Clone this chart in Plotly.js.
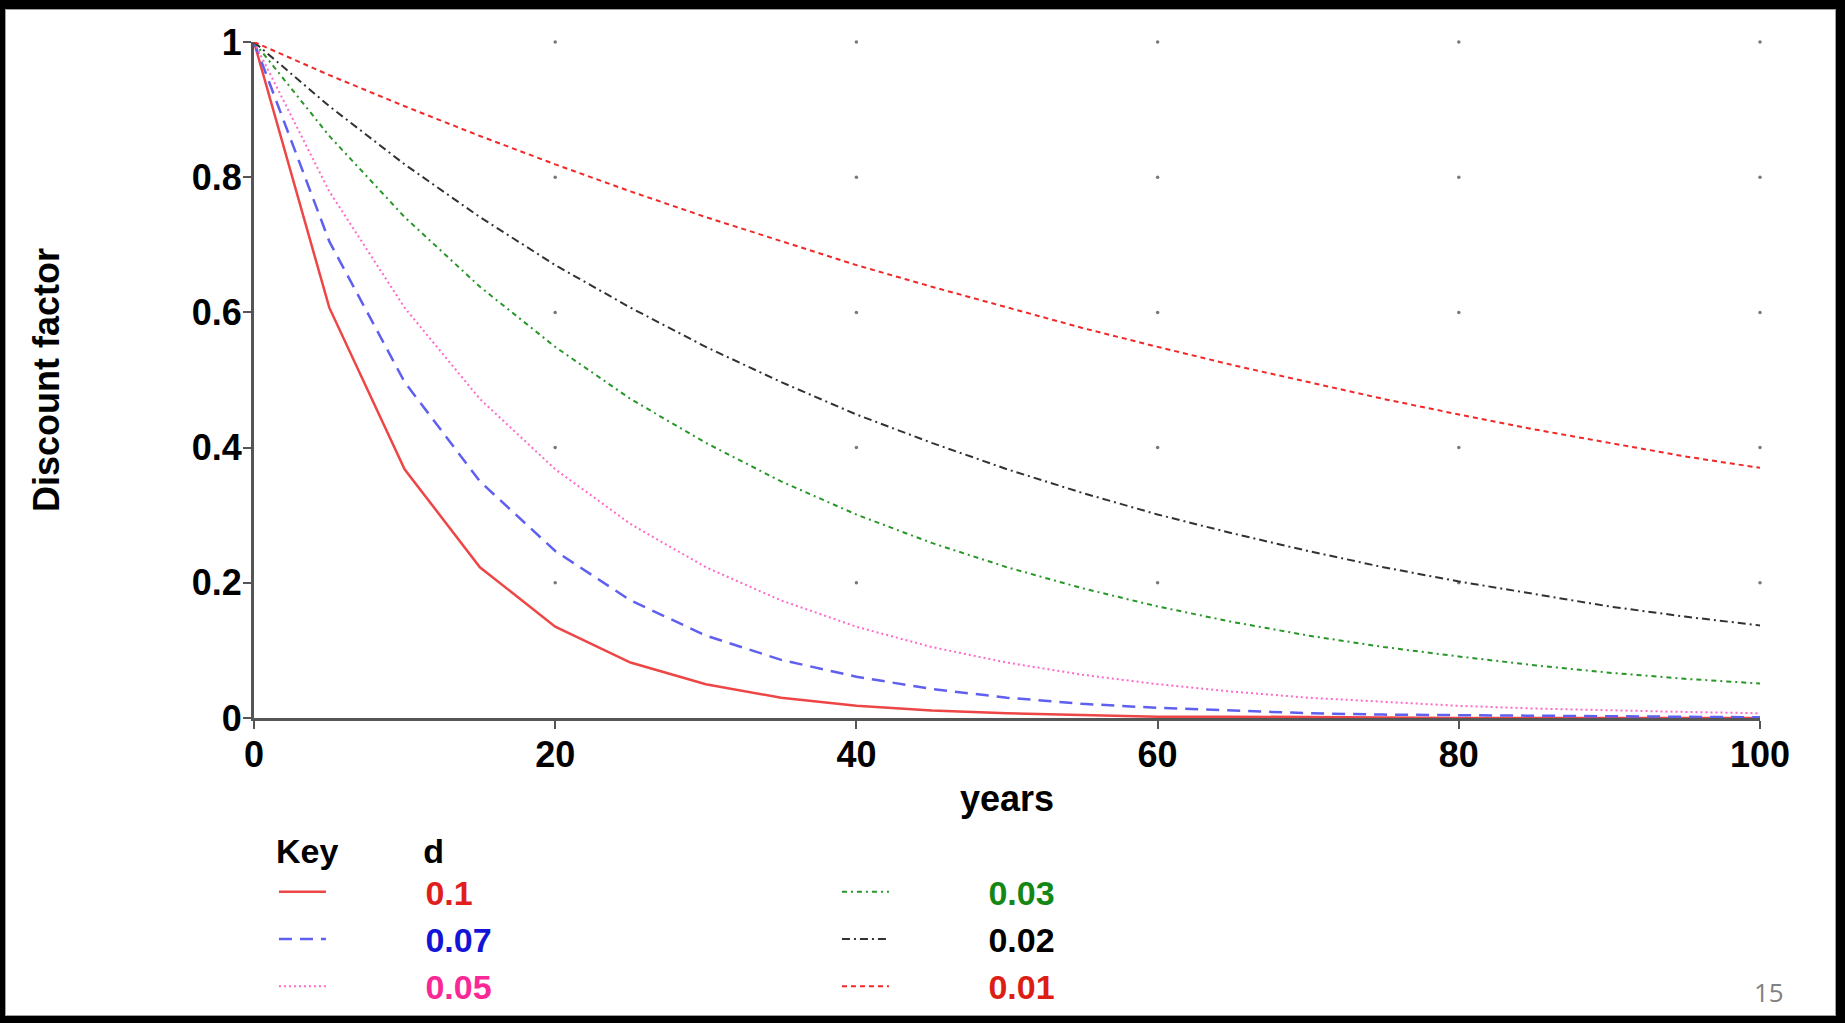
<!DOCTYPE html>
<html><head><meta charset="utf-8">
<script src="https://cdn.plot.ly/plotly-3.0.1.min.js"></script>
<style>
html,body{margin:0;padding:0;background:#000;width:1845px;height:1023px;overflow:hidden;}
#frame{position:absolute;left:5px;top:9px;width:1831px;height:1007px;background:#fff;border:1px solid #a0a0a0;box-sizing:border-box;}
#chart{position:absolute;left:6px;top:10px;width:1829px;height:1005px;}
</style></head><body>
<div id="frame"></div>
<div id="chart"></div>
<script>
// ---- data ----
const years = [0,5,10,15,20,25,30,35,40,45,50,55,60,65,70,75,80,85,90,95,100];
const d010 = [1,0.607,0.368,0.223,0.135,0.082,0.050,0.030,0.018,0.011,0.007,0.004,0.002,0.002,0.001,0.001,0,0,0,0,0];
const d007 = [1,0.705,0.497,0.350,0.247,0.174,0.122,0.086,0.061,0.043,0.030,0.021,0.015,0.011,0.007,0.005,0.004,0.003,0.002,0.001,0.001];
const d005 = [1,0.779,0.607,0.472,0.368,0.287,0.223,0.174,0.135,0.105,0.082,0.064,0.050,0.039,0.030,0.024,0.018,0.014,0.011,0.009,0.007];
const d003 = [1,0.861,0.741,0.638,0.549,0.472,0.407,0.350,0.301,0.259,0.223,0.192,0.165,0.142,0.122,0.105,0.091,0.078,0.067,0.058,0.051];
const d002 = [1,0.905,0.819,0.741,0.670,0.607,0.549,0.497,0.449,0.407,0.368,0.333,0.301,0.273,0.247,0.223,0.202,0.183,0.165,0.150,0.137];
const d001 = [1,0.951,0.905,0.861,0.819,0.779,0.741,0.705,0.670,0.638,0.607,0.577,0.549,0.522,0.497,0.472,0.449,0.427,0.407,0.387,0.370];
const rateLabels = ['0.1','0.07','0.05','0.03','0.02','0.01'];
const xTickVals = [0,20,40,60,80,100];
const yTickVals = [0,0.2,0.4,0.6,0.8,1];
const yTickText = ['0','0.2','0.4','0.6','0.8','1'];

const FONT = 'Liberation Sans, Arial, sans-serif';
const PAD = '\u00a0'.repeat(10);
const TPAD = '\u00a0'.repeat(9);

const styles = [
  {y:d010, line:{color:'rgb(238,70,70)', width:2.5, dash:'solid'}, txt:'rgb(225,30,30)', rank:1},
  {y:d007, line:{color:'rgb(95,95,240)', width:2.5, dash:'13px,8px'}, txt:'rgb(20,20,215)', rank:3},
  {y:d005, line:{color:'rgb(255,105,200)', width:2, dash:'2px,3px'}, txt:'rgb(250,40,150)', rank:5},
  {y:d003, line:{color:'rgb(40,150,40)', width:2, dash:'5px,4px,2px,4px'}, txt:'rgb(20,135,20)', rank:2},
  {y:d002, line:{color:'rgb(50,50,50)', width:2, dash:'8px,4px,2px,4px'}, txt:'rgb(0,0,0)', rank:4},
  {y:d001, line:{color:'rgb(240,40,40)', width:2, dash:'5px,4px'}, txt:'rgb(220,30,20)', rank:6}
];

const traces = styles.map((s,i)=>({
  type:'scatter', mode:'lines', x:years, y:s.y, line:s.line,
  name: PAD + '<b><span style="color:'+s.txt+'">'+rateLabels[i]+'</span></b>',
  legendrank:s.rank, hoverinfo:'skip'
}));

// dotted grid: dots only at grid intersections
const gx=[], gy=[];
xTickVals.slice(1).forEach(xv=>yTickVals.slice(1).forEach(yv=>{gx.push(xv); gy.push(yv);}));
traces.unshift({type:'scatter', mode:'markers', x:gx, y:gy, showlegend:false, hoverinfo:'skip',
  marker:{size:3.5, color:'rgb(120,120,120)'}, cliponaxis:false});

const layout = {
  width:1829, height:1005,
  paper_bgcolor:'#fff', plot_bgcolor:'#fff',
  margin:{l:248, r:75, t:32, b:297, autoexpand:false},
  font:{family:FONT, color:'#000', size:34},
  showlegend:true,
  legend:{
    orientation:'h', xref:'container', yref:'container', x:0.1465, xanchor:'left', y:0.195, yanchor:'top',
    entrywidth:501, entrywidthmode:'pixels', itemwidth:47,
    font:{family:FONT, size:34, color:'#000'},
    title:{text:'<b>Key'+TPAD+'d</b>', side:'top', font:{family:FONT, size:34, color:'#000'}},
    bgcolor:'rgba(0,0,0,0)', traceorder:'normal', tracegroupgap:0
  },
  xaxis:{
    range:[0,100], tickvals:xTickVals, ticktext:xTickVals.map(String),
    showgrid:false, zeroline:false, showline:true, linecolor:'rgb(85,85,85)', linewidth:3,
    ticks:'outside', ticklen:8, tickwidth:2, tickcolor:'rgb(85,85,85)', ticklabelstandoff:-5,
    tickfont:{family:FONT, size:36, color:'#000', weight:'bold'},
    title:{text:'<b>years</b>', font:{family:FONT, size:36, color:'#000'}, standoff:14},
    fixedrange:true
  },
  yaxis:{
    range:[0,1], tickvals:yTickVals, ticktext:yTickText,
    showgrid:false, zeroline:false, showline:true, linecolor:'rgb(85,85,85)', linewidth:3,
    ticks:'outside', ticklen:8, tickwidth:2, tickcolor:'rgb(85,85,85)', ticklabelstandoff:-6,
    tickfont:{family:FONT, size:36, color:'#000', weight:'bold'},
    title:{text:'<b>Discount factor</b>', font:{family:FONT, size:36, color:'#000'}, standoff:122},
    fixedrange:true
  },
  annotations:[{
    text:'15', xref:'paper', yref:'paper', x:1.006, y:-0.4053, xanchor:'center', yanchor:'middle',
    showarrow:false, font:{family:'Open Sans, sans-serif', size:26, color:'rgb(128,128,128)'}
  }]
};

Plotly.newPlot('chart', traces, layout, {displayModeBar:false, staticPlot:true});
</script>
</body></html>
